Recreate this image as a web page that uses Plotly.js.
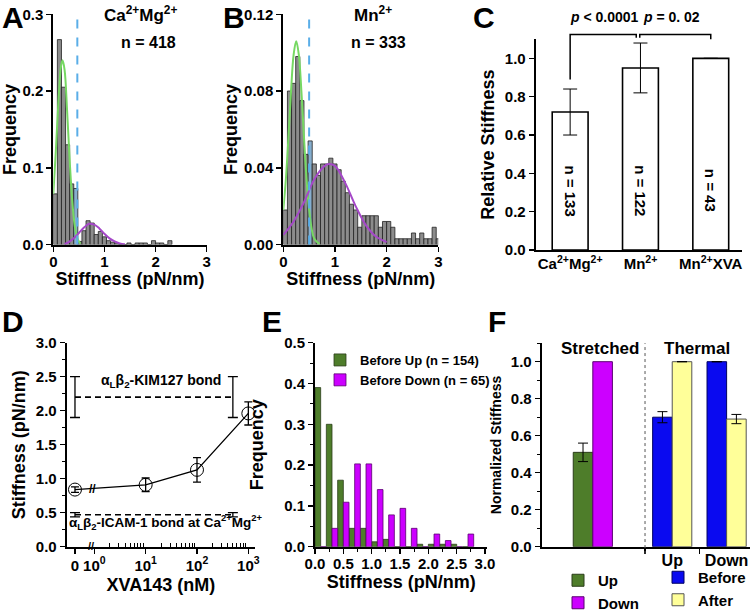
<!DOCTYPE html>
<html><head><meta charset="utf-8">
<script src="https://cdn.plot.ly/plotly-3.0.1.min.js"></script>
<style>html,body{margin:0;padding:0;background:#fff}#chart{width:754px;height:612px}</style>
</head><body><div id="chart"></div>
<script>
// ================= DATA =================
// Panels A & B: stiffness histograms (bin width in pN/nm, frequencies per bin)
const histBinWidth = 0.08;
const freqCaMg = [0.066,0.267,0.205,0.13,0.079,0.073,0.004,0.018,0.031,0.028,0.013,0.017,0.01,0.005,0.003,0.002,0,0,0.002,0,0.002,0.002,0.002,0,0.005,0.002,0.002,0,0.005];
const freqMn = [0.018,0.080,0.084,0.098,0.075,0.047,0.054,0.042,0.036,0.042,0.042,0.045,0.042,0.039,0.033,0.027,0.021,0.018,0.009,0.015,0.015,0.015,0.015,0.009,0.012,0.012,0.009,0.003,0.003,0.003,0.003,0.006,0.003,0.006,0.003,0.003,0.009,0.003];
const thresholdCaMg = 0.47, thresholdMn = 0.5;
// fitted curves
const fitLowCaMgX = [0,0.05,0.1,0.15,0.18,0.22,0.27,0.32,0.37,0.42,0.47,0.53];
const fitLowCaMgY = [0.066,0.122,0.186,0.232,0.24,0.228,0.174,0.11,0.057,0.024,0.008,0.001];
const fitHighCaMgX = [0.22,0.3,0.4,0.5,0.6,0.7,0.8,0.9,1.0,1.1,1.2,1.3,1.4];
const fitHighCaMgY = [0.0005,0.003,0.008,0.015,0.022,0.027,0.026,0.021,0.014,0.008,0.004,0.0015,0.0004];
const fitLowMnX = [0,0.05,0.1,0.15,0.2,0.25,0.3,0.35,0.4,0.45,0.5,0.55,0.6,0.7];
const fitLowMnY = [0.018,0.034,0.056,0.08,0.099,0.106,0.099,0.08,0.056,0.034,0.018,0.008,0.003,0.0002];
const fitHighMnX = [0,0.2,0.4,0.6,0.8,0.88,1.0,1.2,1.4,1.6,1.8,2.0];
const fitHighMnY = [0.005,0.012,0.022,0.034,0.041,0.042,0.041,0.032,0.020,0.010,0.004,0.0013];

// Panel C: relative stiffness
const condLabels = ['Ca<sup>2+</sup>Mg<sup>2+</sup>','Mn<sup>2+</sup>','Mn<sup>2+</sup>XVA'];
const relStiff = [0.72, 0.95, 1.0];
const relStiffErr = [0.12, 0.13, 0];
const relN = ['n = 133','n = 122','n = 43'];
const pTexts = ['<i>p</i> &lt; 0.0001','<i>p</i> = 0. 02'];

// Panel D: stiffness vs XVA143 concentration (nM)
const xvaConc = [0, 10, 100, 1000];
const xvaStiff = [0.84, 0.91, 1.13, 1.96];
const xvaErr = [0.04, 0.10, 0.18, 0.17];
const kimConc = [0, 500], kimStiff = [2.2, 2.2], kimErr = [0.3, 0.3];
const icamConc = [0, 500], icamStiff = [0.47, 0.47], icamErr = [0.03, 0.03];
const xvaTickVals = [1, 10, 100, 1000];
const xvaTickText = ['10<sup>0</sup>','10<sup>1</sup>','10<sup>2</sup>','10<sup>3</sup>'];

// Panel E: grouped histogram, bin width 0.2
const binWidthE = 0.2;
const freqBeforeUp = [0.39,0.30,0.163,0.045,0.045,0.012,0.018,0,0,0.006,0.006,0.006,0.006,0];
const freqBeforeDown = [0,0.045,0.109,0.203,0.203,0.14,0.078,0.094,0.045,0,0.031,0.015,0,0.031];

// Panel F: normalized stiffness
const stretchedUp = 0.51, stretchedUpErr = 0.05, stretchedDown = 1.0;
const thermalCats = ['Up','Down'];
const thermalBefore = [0.70, 1.0], thermalBeforeErr = [0.03, 0];
const thermalAfter = [1.0, 0.69], thermalAfterErr = [0, 0.025];

// ================= LAYOUT HELPERS =================
const W = 754, H = 612;
const FONT = 'Liberation Sans, Arial, sans-serif';
const px = v => v / W;
const py = v => 1 - v / H;
const tickFont = {family: FONT, size: 15, weight: 700, color: '#000'};
const titleFont = {family: FONT, size: 18, weight: 700, color: '#000'};

function ax(o) {
  return Object.assign({
    showline: true, linecolor: '#000', linewidth: 2, mirror: false,
    ticks: 'outside', ticklen: 5, tickwidth: 1.5, tickcolor: '#000',
    tickfont: tickFont, showgrid: false, zeroline: false, fixedrange: true
  }, o);
}

const domA = [px(53.3), px(206.7)], domB = [px(283.3), px(438.3)];
const domTopY = [py(244.5), py(14.3)];
const domC = [px(535.7), px(741.7)], domCY = [py(250), py(39.2)];
const domD = [px(66.7), px(255)], domE = [px(315), px(487.3)], domF = [px(541.7), px(750)];
const domBotY = [py(546.7), py(342.7)], domFY = [py(546.7), py(343.2)];

// ================= TRACES =================
const traces = [];
const grey = '#8c8c8c', tint = '#88aecd';
function histTrace(freq, thr, xa, ya) {
  const lefts = freq.map((_, i) => i * histBinWidth);
  return {
    type: 'bar', x: lefts, y: freq, width: histBinWidth, offset: 0,
    marker: {color: lefts.map(l => (thr >= l && thr < l + histBinWidth) ? tint : grey),
             line: {color: '#222', width: 0.8}},
    xaxis: xa, yaxis: ya, showlegend: false, hoverinfo: 'skip'
  };
}
function curve(x, y, color, xa, ya) {
  return {type: 'scatter', mode: 'lines', x, y, line: {color, width: 2, shape: 'spline'},
          xaxis: xa, yaxis: ya, showlegend: false, hoverinfo: 'skip'};
}
traces.push(histTrace(freqCaMg, thresholdCaMg, 'x', 'y'));
traces.push(curve(fitLowCaMgX, fitLowCaMgY, '#76d862', 'x', 'y'));
traces.push(curve(fitHighCaMgX, fitHighCaMgY, '#a548c8', 'x', 'y'));
traces.push(histTrace(freqMn, thresholdMn, 'x2', 'y2'));
traces.push(curve(fitLowMnX, fitLowMnY, '#76d862', 'x2', 'y2'));
traces.push(curve(fitHighMnX, fitHighMnY, '#a548c8', 'x2', 'y2'));

// C
const condIdx = condLabels.map((_, i) => i);
traces.push({
  type: 'bar', x: condIdx, y: relStiff, width: 0.51,
  marker: {color: '#fff', line: {color: '#000', width: 1.6}},
  error_y: {type: 'data', array: relStiffErr, color: '#000', thickness: 1, width: 7},
  xaxis: 'x3', yaxis: 'y3', showlegend: false, hoverinfo: 'skip'
});

// D
const zeroPos = 0.42; // display position of the "0" concentration on the log axis
const dx = c => c === 0 ? zeroPos : c;
function refLine(conc, val, err) {
  return {type: 'scatter', mode: 'lines', x: conc.map(dx), y: val,
    line: {color: '#000', width: 1.6, dash: '6px,4px'},
    error_y: {type: 'data', array: err, color: '#000', thickness: 1.3, width: 5},
    xaxis: 'x4', yaxis: 'y4', showlegend: false, hoverinfo: 'skip'};
}
traces.push(refLine(kimConc, kimStiff, kimErr));
traces.push(refLine(icamConc, icamStiff, icamErr));
traces.push({
  type: 'scatter', mode: 'lines+markers', x: xvaConc.map(dx), y: xvaStiff,
  line: {color: '#000', width: 1.3},
  marker: {symbol: 'circle-open', size: 13, color: '#000', line: {width: 1, color: '#000'}},
  error_y: {type: 'data', array: xvaErr, color: '#000', thickness: 1.3, width: 4},
  xaxis: 'x4', yaxis: 'y4', showlegend: false, hoverinfo: 'skip', cliponaxis: false
});

// E
const centersE = freqBeforeUp.map((_, i) => (i + 0.5) * binWidthE);
traces.push({type: 'bar', name: 'Before Up (n = 154)', x: centersE, y: freqBeforeUp,
  marker: {color: '#4e7d2a', line: {color: '#2b3d1a', width: 0.8}},
  xaxis: 'x5', yaxis: 'y5', legend: 'legend', hoverinfo: 'skip'});
traces.push({type: 'bar', name: 'Before Down (n = 65)', x: centersE, y: freqBeforeDown,
  marker: {color: '#cc00ff', line: {color: '#5a0070', width: 0.8}},
  xaxis: 'x5', yaxis: 'y5', legend: 'legend', hoverinfo: 'skip'});

// F
const stretchPos = 0.54;
const thermalPos = thermalCats.map((_, i) => 2 + i);
const bwF = 0.36;
traces.push({type: 'bar', name: 'Up', x: [stretchPos], y: [stretchedUp], width: bwF, offset: -bwF,
  marker: {color: '#4e7d2a', line: {color: '#2b3d1a', width: 1}},
  error_y: {type: 'data', array: [stretchedUpErr], color: '#000', thickness: 1, width: 5},
  xaxis: 'x6', yaxis: 'y6', legend: 'legend2', hoverinfo: 'skip'});
traces.push({type: 'bar', name: 'Down', x: [stretchPos], y: [stretchedDown], width: bwF, offset: 0,
  marker: {color: '#cc00ff', line: {color: '#5a0070', width: 1}},
  xaxis: 'x6', yaxis: 'y6', legend: 'legend2', hoverinfo: 'skip'});
traces.push({type: 'bar', name: 'Before', x: thermalPos, y: thermalBefore, width: bwF, offset: -bwF,
  marker: {color: '#0a0af0', line: {color: '#000060', width: 1}},
  error_y: {type: 'data', array: thermalBeforeErr, color: '#000', thickness: 1, width: 5},
  xaxis: 'x6', yaxis: 'y6', legend: 'legend3', hoverinfo: 'skip'});
traces.push({type: 'bar', name: 'After', x: thermalPos, y: thermalAfter, width: bwF, offset: 0,
  marker: {color: '#ffff99', line: {color: '#555', width: 1}},
  error_y: {type: 'data', array: thermalAfterErr, color: '#000', thickness: 1, width: 5},
  xaxis: 'x6', yaxis: 'y6', legend: 'legend3', hoverinfo: 'skip'});

// ================= LAYOUT =================
const cY = v => domCY[0] + v / 1.1 * (domCY[1] - domCY[0]);
const label = (t, x, y, size, extra) => Object.assign({text: t, xref: 'paper', yref: 'paper',
  x: px(x), y: py(y), xanchor: 'center', yanchor: 'middle', showarrow: false,
  font: {family: FONT, size: size, weight: 700, color: '#000'}}, extra || {});
const letter = (t, x, y) => label(t, x, y, 30);

const annotations = [
  letter('A', 13, 17), letter('B', 234, 17), letter('C', 484, 17),
  letter('D', 13, 321), letter('E', 272, 321), letter('F', 497, 321),
  label('Ca<sup>2+</sup>Mg<sup>2+</sup>', 140, 14, 17),
  label('n = 418', 148, 43, 16),
  label('Mn<sup>2+</sup>', 373, 14, 17),
  label('n = 333', 378, 43, 16),
  label(pTexts[0], 604, 17, 14),
  label(pTexts[1], 671, 17, 14),
  label('α<sub>L</sub>β<sub>2</sub>-KIM127 bond', 161, 381, 14),
  label('α<sub>L</sub>β<sub>2</sub>-ICAM-1 bond at Ca<sup>2+</sup>Mg<sup>2+</sup>', 166, 522, 13.5),
  label('//', 90.5, 546, 11),
  label('//', 92, 489, 12),
  label('Stretched', 600, 348, 17),
  label('Thermal', 697, 348, 17)
];
relN.forEach((t, i) => annotations.push({text: t, xref: 'x3', yref: 'y3', x: condIdx[i], y: 0.31,
  xanchor: 'center', yanchor: 'middle',
  textangle: 90, showarrow: false, font: {family: FONT, size: 15, weight: 700, color: '#000'}}));

const shapes = [
  {type: 'line', xref: 'x', yref: 'y domain', x0: thresholdCaMg, x1: thresholdCaMg, y0: 0, y1: 1,
   line: {color: '#5aaee8', width: 2, dash: 'dash'}},
  {type: 'line', xref: 'x2', yref: 'y2 domain', x0: thresholdMn, x1: thresholdMn, y0: 0, y1: 1,
   line: {color: '#5aaee8', width: 2, dash: 'dash'}},
  {type: 'path', xref: 'x3', yref: 'paper',
   path: `M0,${cY(0.89)} L0,${cY(1.125)} L0.94,${cY(1.125)} L0.94,${cY(1.108)}`,
   line: {color: '#000', width: 1.5}},
  {type: 'path', xref: 'x3', yref: 'paper',
   path: `M0.99,${cY(1.108)} L0.99,${cY(1.125)} L2,${cY(1.125)} L2,${cY(1.1)}`,
   line: {color: '#000', width: 1.5}},
  {type: 'line', xref: 'x6', yref: 'paper', x0: 1.5, x1: 1.5, y0: domFY[0] - 0.012, y1: domFY[1],
   line: {color: '#555', width: 1, dash: 'dot'}}
];

const minorLog = [];
[1, 10, 100].forEach(d => { for (let k = 2; k <= 9; k++) minorLog.push(k * d); });

const layout = {
  width: W, height: H, margin: {l: 0, r: 0, t: 0, b: 0, autoexpand: false},
  paper_bgcolor: '#fff', plot_bgcolor: 'rgba(0,0,0,0)',
  font: {family: FONT, color: '#000'},
  barmode: 'group', bargap: 0, bargroupgap: 0,
  xaxis: ax({domain: domA, anchor: 'y', range: [0, 3], dtick: 1, ticklabelstandoff: -3,
    title: {text: 'Stiffness (pN/nm)', font: titleFont, standoff: 2}}),
  yaxis: ax({domain: domTopY, anchor: 'x', range: [0, 0.3], dtick: 0.1, tickformat: '.1f',
    title: {text: 'Frequency', font: titleFont, standoff: 6}}),
  xaxis2: ax({domain: domB, anchor: 'y2', range: [0, 3], dtick: 1, ticklabelstandoff: -3,
    title: {text: 'Stiffness (pN/nm)', font: titleFont, standoff: 2}}),
  yaxis2: ax({domain: domTopY, anchor: 'x2', range: [0, 0.12], dtick: 0.04, tickformat: '.2f',
    title: {text: 'Frequency', font: titleFont, standoff: 2}}),
  xaxis3: ax({domain: domC, anchor: 'y3', range: [-0.49, 2.44], tickvals: condIdx, ticktext: condLabels,
    ticks: '', ticklabelstandoff: -1}),
  yaxis3: ax({domain: domCY, anchor: 'x3', range: [0, 1.1], dtick: 0.2, tickformat: '.1f',
    title: {text: 'Relative Stiffness', font: titleFont, standoff: 6}}),
  xaxis4: ax({domain: domD, anchor: 'y4', type: 'log', range: [-0.538, 3.13],
    tickvals: [zeroPos].concat(xvaTickVals), ticktext: ['0'].concat(xvaTickText),
    ticks: 'outside', ticklen: 5, ticklabelstandoff: -1,
    minor: {tickvals: minorLog, ticks: 'inside', ticklen: 4, tickwidth: 1, tickcolor: '#000'},
    title: {text: 'XVA143 (nM)', font: titleFont, standoff: 6}}),
  yaxis4: ax({domain: domBotY, anchor: 'x4', range: [0, 3], dtick: 0.5, tickformat: '.1f',
    minor: {dtick: 0.25, ticks: 'outside', ticklen: 3, tickwidth: 1, tickcolor: '#000'},
    title: {text: 'Stiffness (pN/nm)', font: titleFont, standoff: 6}}),
  xaxis5: ax({domain: domE, anchor: 'y5', range: [0, 3.04], dtick: 0.5, tickformat: '.1f',
    ticklabelstandoff: -3,
    minor: {dtick: 0.25, ticks: 'outside', ticklen: 3, tickwidth: 1, tickcolor: '#000'},
    title: {text: 'Stiffness (pN/nm)', font: titleFont, standoff: 5}}),
  yaxis5: ax({domain: domBotY, anchor: 'x5', range: [0, 0.5], dtick: 0.1, tickformat: '.1f',
    minor: {dtick: 0.05, ticks: 'outside', ticklen: 3, tickwidth: 1, tickcolor: '#000'},
    title: {text: 'Frequency', font: titleFont, standoff: 16}}),
  xaxis6: ax({domain: domF, anchor: 'y6', range: [-0.4, 3.43], tickvals: thermalPos, ticktext: thermalCats,
    ticks: '', ticklabelstandoff: -2, tickfont: Object.assign({}, tickFont, {size: 16}),
    minor: {tickvals: [1.5, 2.5], ticks: 'outside', ticklen: 5, tickwidth: 1.5, tickcolor: '#000'}}),
  yaxis6: ax({domain: domFY, anchor: 'x6', range: [0, 1.1], dtick: 0.2, tickformat: '.1f',
    minor: {dtick: 0.1, ticks: 'outside', ticklen: 3, tickwidth: 1, tickcolor: '#000'},
    title: {text: 'Normalized Stiffness', font: Object.assign({}, titleFont, {size: 14}), standoff: 6}}),
  legend: {x: px(320), y: py(345), xanchor: 'left', yanchor: 'top', bgcolor: 'rgba(0,0,0,0)',
    font: {family: FONT, size: 13, weight: 700, color: '#000'}, tracegroupgap: 0, itemclick: false},
  legend2: {x: px(558), y: py(564), xanchor: 'left', yanchor: 'top', bgcolor: 'rgba(0,0,0,0)',
    font: {family: FONT, size: 15, weight: 700, color: '#000'}, tracegroupgap: 0, itemclick: false},
  legend3: {x: px(658), y: py(561), xanchor: 'left', yanchor: 'top', bgcolor: 'rgba(0,0,0,0)',
    font: {family: FONT, size: 15, weight: 700, color: '#000'}, tracegroupgap: 0, itemclick: false},
  annotations, shapes
};

Plotly.newPlot('chart', traces, layout, {staticPlot: true, displayModeBar: false});
</script></body></html>
